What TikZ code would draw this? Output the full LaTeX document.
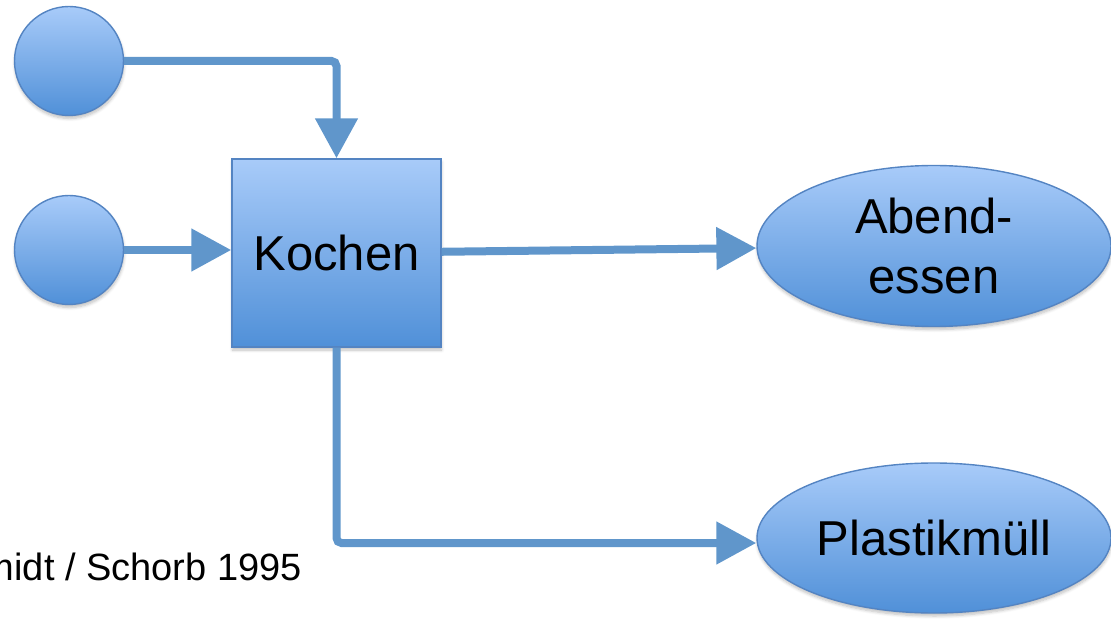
\documentclass[tikz,border=0pt]{standalone}
\usepackage{fontspec}
\setmainfont{Liberation Sans}
\usetikzlibrary{arrows.meta,shapes.geometric,shadows.blur}
\definecolor{shapetop}{RGB}{168,203,249}
\definecolor{shapebottom}{RGB}{80,144,216}
\definecolor{shapeedge}{RGB}{84,132,194}
\definecolor{flow}{RGB}{96,150,203}
\tikzset{
  shapefill/.style={draw=shapeedge, line width=1.4pt, top color=shapetop, bottom color=shapebottom,
    inner sep=0pt,
    blur shadow={shadow xshift=0.5pt, shadow yshift=-3pt, shadow blur steps=6, shadow blur radius=3pt, shadow opacity=25}},
  source/.style={shapefill, circle, minimum size=109pt},
  process/.style={shapefill, rectangle, minimum width=209pt, minimum height=188pt,
    font=\fontsize{49}{58}\selectfont},
  product/.style={shapefill, ellipse, minimum width=354pt, align=center,
    font=\fontsize{49}{60}\selectfont},
  flowline/.style={draw=flow, line width=8pt, rounded corners=5pt,
    -{Triangle[length=40pt,width=41pt]}},
}
\begin{document}
\begin{tikzpicture}[x=1pt,y=-1pt]
  \useasboundingbox (0,0) rectangle (1111,620);
  \clip (0,0) rectangle (1111,620);
  % nodes
  \node[source] (in1) at (69,61) {};
  \node[source] (in2) at (69,250) {};
  \node[process] (cook) at (336.5,253) {Kochen};
  \node[product, minimum height=161pt] (dinner) at (934,246) {Abend-\\essen};
  \node[product, minimum height=150pt] (waste) at (934,538) {Plastikmüll};
  % source label, running off the left edge
  \node[anchor=base east, inner sep=0pt, font=\fontsize{38}{44}\selectfont] (src) at (302,580)
    {Schmidt / Schorb 1995};
  % flows
  \draw[flowline] (in1.east) -| (cook.north);
  \draw[flowline] (in2.east) -- (in2.east -| cook.west);
  \draw[flowline] (cook) -- (dinner);
  \draw[flowline] (cook.south) |- ([yshift=-5pt]waste.west);
\end{tikzpicture}
\end{document}
